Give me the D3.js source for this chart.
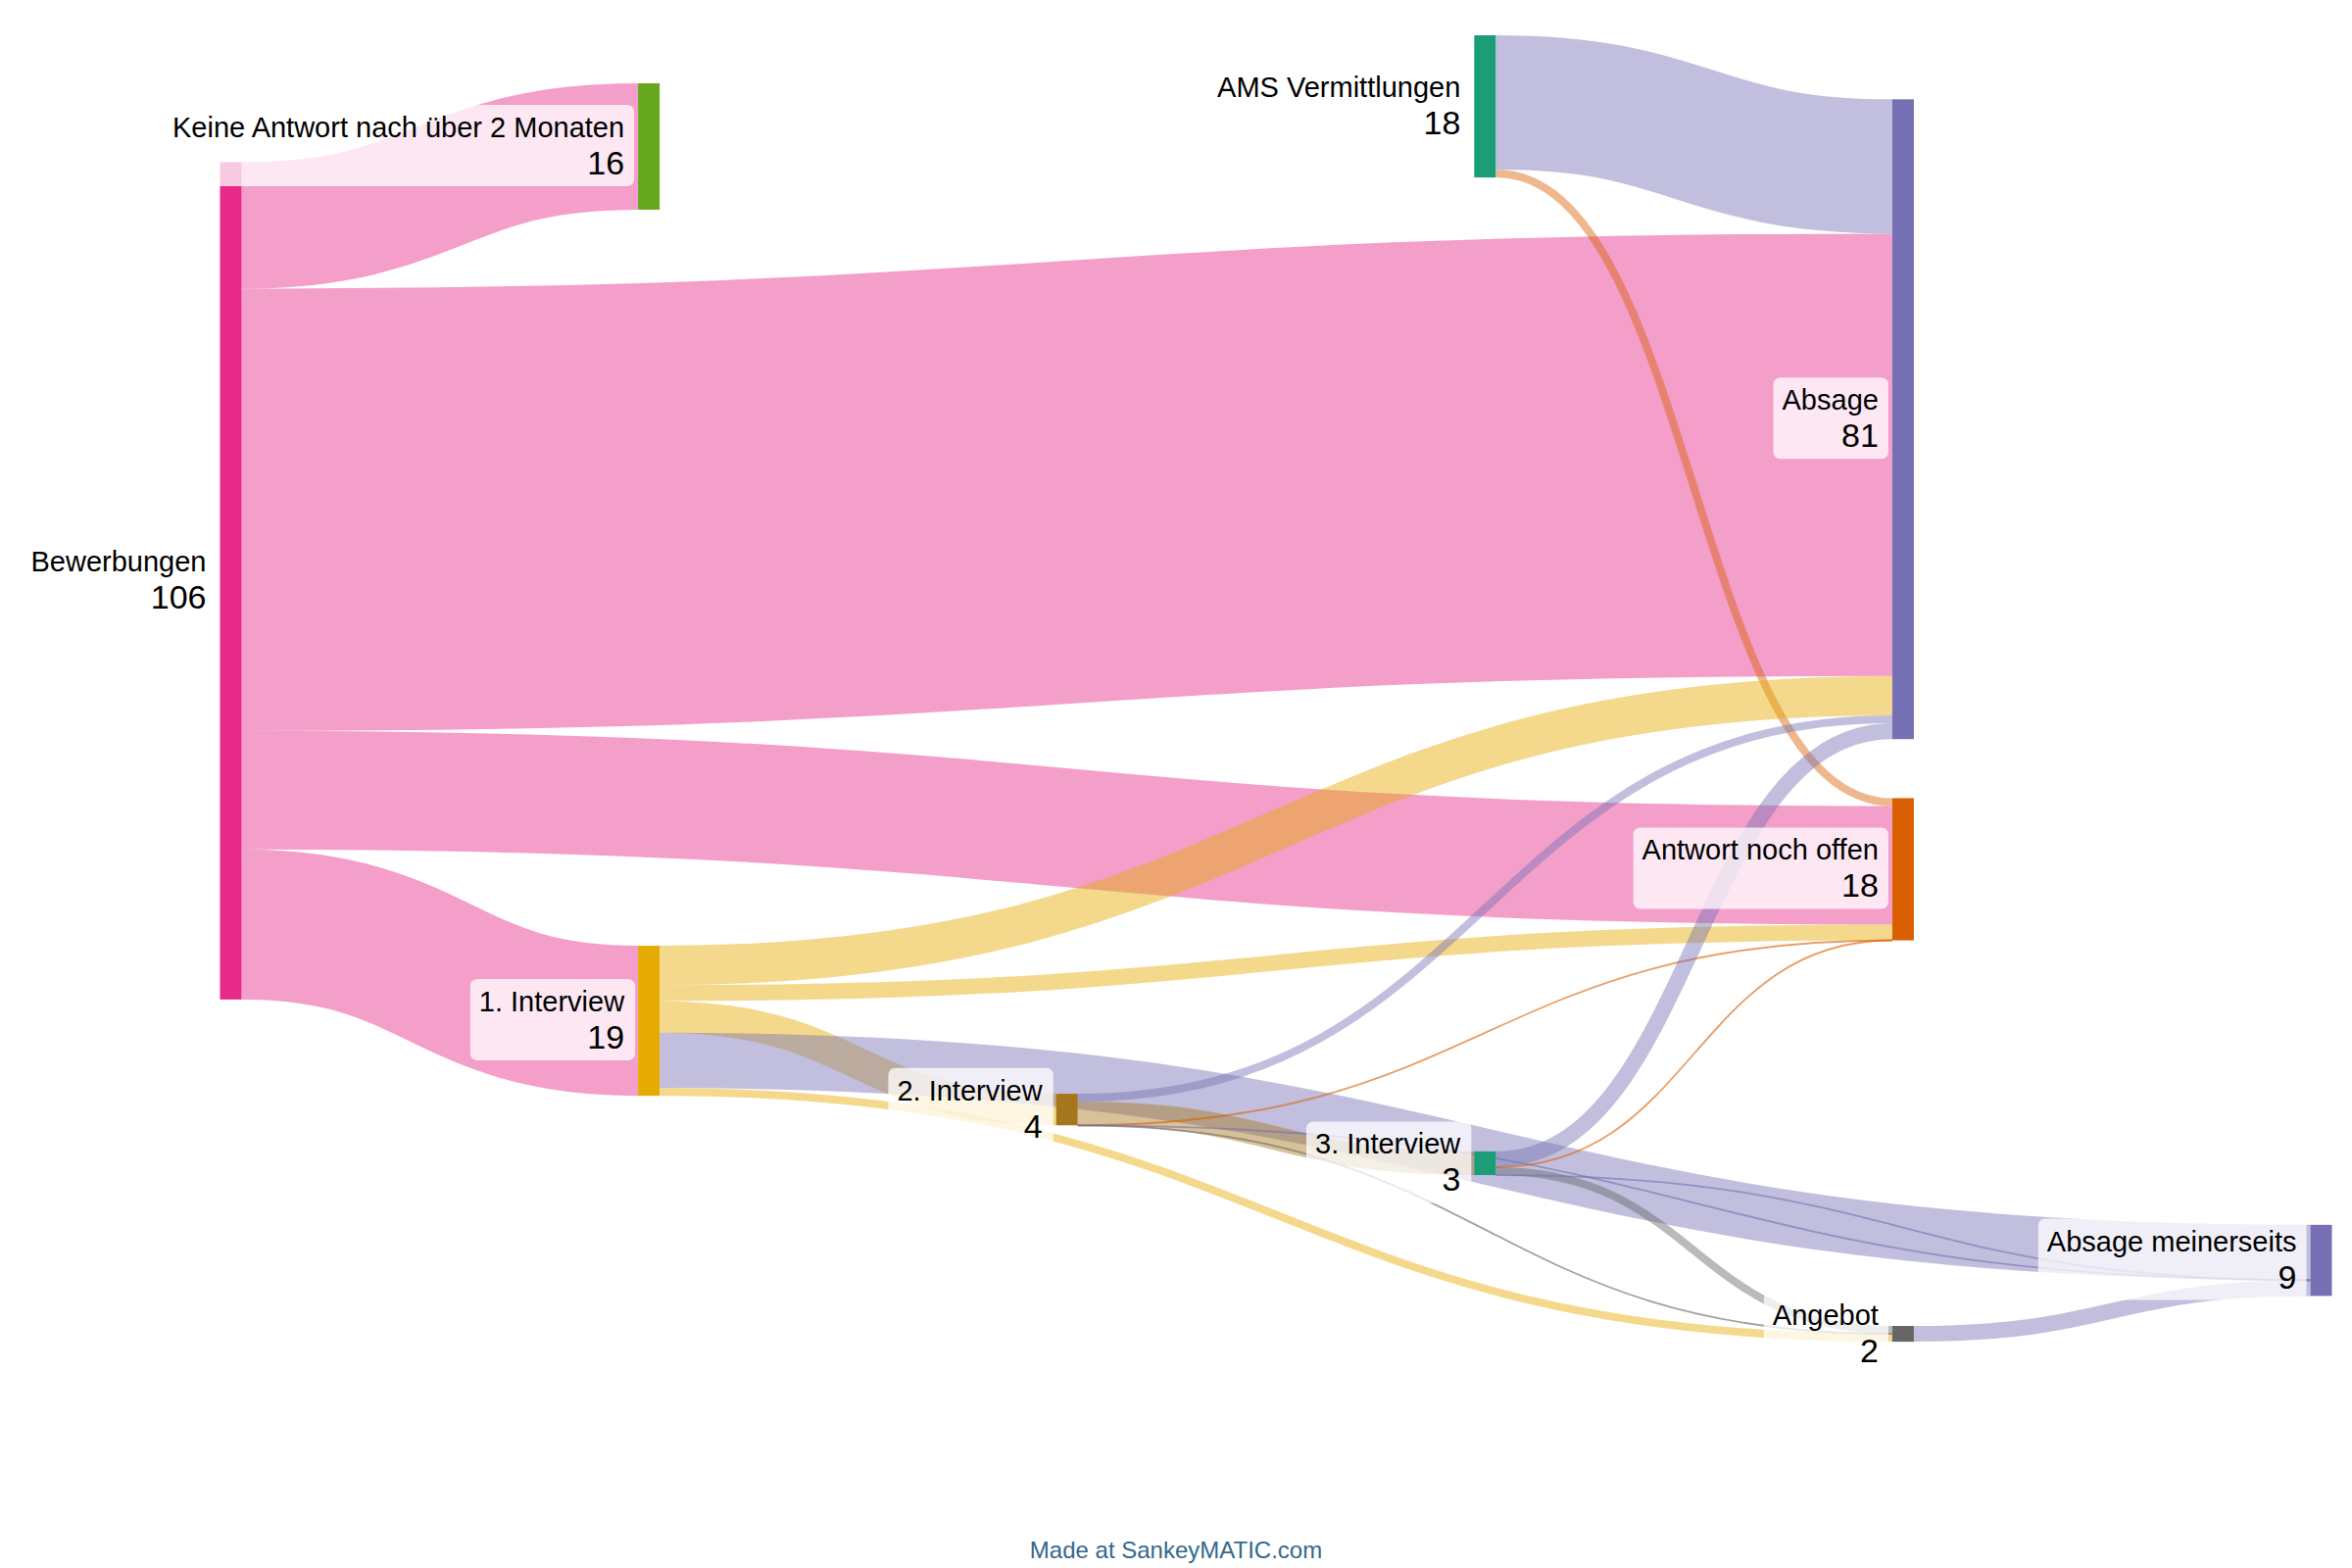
<!DOCTYPE html>
<html>
<head>
<meta charset="utf-8">
<script src="https://cdn.jsdelivr.net/npm/d3@7"></script>
<style>
  html, body { margin: 0; padding: 0; background: #ffffff; }
  svg { display: block; }
</style>
</head>
<body>
<svg id="chart" width="2400" height="1600"></svg>
<script>
// ---------- DATA ----------
const nodeNames = [
  "Bewerbungen",
  "Keine Antwort nach über 2 Monaten",
  "AMS Vermittlungen",
  "Absage",
  "Antwort noch offen",
  "1. Interview",
  "2. Interview",
  "3. Interview",
  "Angebot",
  "Absage meinerseits"
];
const nodeColors = ["#e7298a", "#66a61e", "#1b9e77", "#7570b3", "#d95f02",
                    "#e6ab02", "#a6761d", "#1b9e77", "#666666", "#7570b3"];

const linkSource = ["Bewerbungen", "Bewerbungen", "Bewerbungen", "Bewerbungen",
  "AMS Vermittlungen", "AMS Vermittlungen",
  "1. Interview", "1. Interview", "1. Interview", "1. Interview", "1. Interview",
  "2. Interview", "2. Interview", "2. Interview", "2. Interview", "2. Interview",
  "3. Interview", "3. Interview", "3. Interview", "3. Interview",
  "Angebot"];
const linkTarget = ["Keine Antwort nach über 2 Monaten", "Absage", "Antwort noch offen", "1. Interview",
  "Absage", "Antwort noch offen",
  "Absage", "Antwort noch offen", "2. Interview", "Absage meinerseits", "Angebot",
  "Absage", "3. Interview", "Antwort noch offen", "Angebot", "Absage meinerseits",
  "Absage", "Antwort noch offen", "Angebot", "Absage meinerseits",
  "Absage meinerseits"];
const linkValue = [16, 56, 15, 19,
  17, 1,
  5, 2, 4, 7, 1,
  1, 3, 0, 0, 0,
  2, 0, 1, 0,
  2];
const linkColors = ["#e7298a", "#e7298a", "#e7298a", "#e7298a",
  "#7570b3", "#d95f02",
  "#e6ab02", "#e6ab02", "#e6ab02", "#7570b3", "#e6ab02",
  "#7570b3", "#a6761d", "#d95f02", "#666666", "#7570b3",
  "#7570b3", "#d95f02", "#666666", "#7570b3",
  "#7570b3"];

// ---------- LAYOUT (column, top offset in value units, link stacking order) ----------
const nodeColumn   = [0, 1, 3, 4, 4, 1, 2, 3, 4, 5];
const nodeTopUnits = [16.07, 6.08, 0, 8.11, 96.58, 115.26, 134.0, 141.3, 163.4, 150.6];
// [rank among outflows of source, rank among inflows of target]
const linkOrder = [[0,0],[1,1],[2,1],[3,0],
  [0,0],[1,0],
  [0,2],[1,2],[2,0],[3,0],[4,2],
  [0,3],[1,0],[2,3],[3,1],[4,1],
  [0,4],[1,4],[2,0],[3,2],
  [0,3]];

// ---------- SCALES ----------
const NODE_W = 22;
const xScale = d3.scaleLinear().domain([0, 5]).range([224.5, 2357.5]);
const yScale = d3.scaleLinear().domain([0, 100]).range([36, 36 + 806]);
const unitPx = v => yScale(v) - yScale(0);

// ---------- BUILD GRAPH ----------
const nodes = nodeNames.map((name, i) => ({
  name, index: i, color: nodeColors[i], col: nodeColumn[i],
  inLinks: [], outLinks: []
}));
const byName = new Map(nodes.map(n => [n.name, n]));
const links = linkSource.map((s, i) => ({
  source: byName.get(s), target: byName.get(linkTarget[i]),
  value: linkValue[i], color: linkColors[i],
  srcRank: linkOrder[i][0], tgtRank: linkOrder[i][1]
}));
links.forEach(l => { l.source.outLinks.push(l); l.target.inLinks.push(l); });
nodes.forEach((n, i) => {
  n.value = Math.max(d3.sum(n.inLinks, l => l.value), d3.sum(n.outLinks, l => l.value));
  n.x0 = xScale(n.col); n.x1 = n.x0 + NODE_W;
  n.y0 = yScale(nodeTopUnits[i]);
  n.y1 = yScale(nodeTopUnits[i] + n.value);
  let cur = n.y0;
  n.outLinks.slice().sort((a, b) => a.srcRank - b.srcRank).forEach(l => {
    const w = unitPx(l.value); l.width = w; l.sy = cur + w / 2; cur += w;
  });
  cur = n.y0;
  n.inLinks.slice().sort((a, b) => a.tgtRank - b.tgtRank).forEach(l => {
    const w = unitPx(l.value); l.ty = cur + w / 2; cur += w;
  });
});

// ---------- DRAW ----------
const svg = d3.select("#chart");
const linkGen = d3.linkHorizontal();

svg.append("g").selectAll("path").data(links).join("path")
  .attr("d", l => linkGen({ source: [l.source.x1, l.sy], target: [l.target.x0, l.ty] }))
  .attr("fill", "none")
  .attr("stroke", l => l.color)
  .attr("stroke-opacity", l => l.value > 0 ? 0.45 : 0.6)
  .attr("stroke-width", l => Math.max(l.width, 1.8));

svg.append("g").selectAll("rect").data(nodes).join("rect")
  .attr("x", n => n.x0).attr("y", n => n.y0)
  .attr("width", NODE_W).attr("height", n => n.y1 - n.y0)
  .attr("fill", n => n.color);

const labelG = svg.append("g")
  .attr("font-family", "'Liberation Sans', Arial, Helvetica, sans-serif")
  .attr("fill", "#000");

nodes.forEach(n => {
  const g = labelG.append("g");
  const cy = (n.y0 + n.y1) / 2;
  const tx = n.x0 - 14;
  const bg = g.append("rect");
  const tg = g.append("g");
  tg.append("text").attr("x", tx).attr("y", cy - 9.5)
    .attr("text-anchor", "end").attr("font-size", 29).text(n.name);
  tg.append("text").attr("x", tx).attr("y", cy + 28.5)
    .attr("text-anchor", "end").attr("font-size", 34).text(d3.format(",")(n.value));
  const bb = tg.node().getBBox();
  bg.attr("x", bb.x - 9).attr("y", bb.y - 7)
    .attr("width", bb.width + 19).attr("height", bb.height + 12)
    .attr("rx", 7).attr("ry", 7)
    .attr("fill", "#ffffff").attr("fill-opacity", 0.75);
});

svg.append("text")
  .attr("x", 1200).attr("y", 1590)
  .attr("text-anchor", "middle")
  .attr("font-family", "'Liberation Sans', Arial, Helvetica, sans-serif")
  .attr("font-size", 24)
  .attr("fill", "#34698a")
  .text("Made at SankeyMATIC.com");
</script>
</body>
</html>
